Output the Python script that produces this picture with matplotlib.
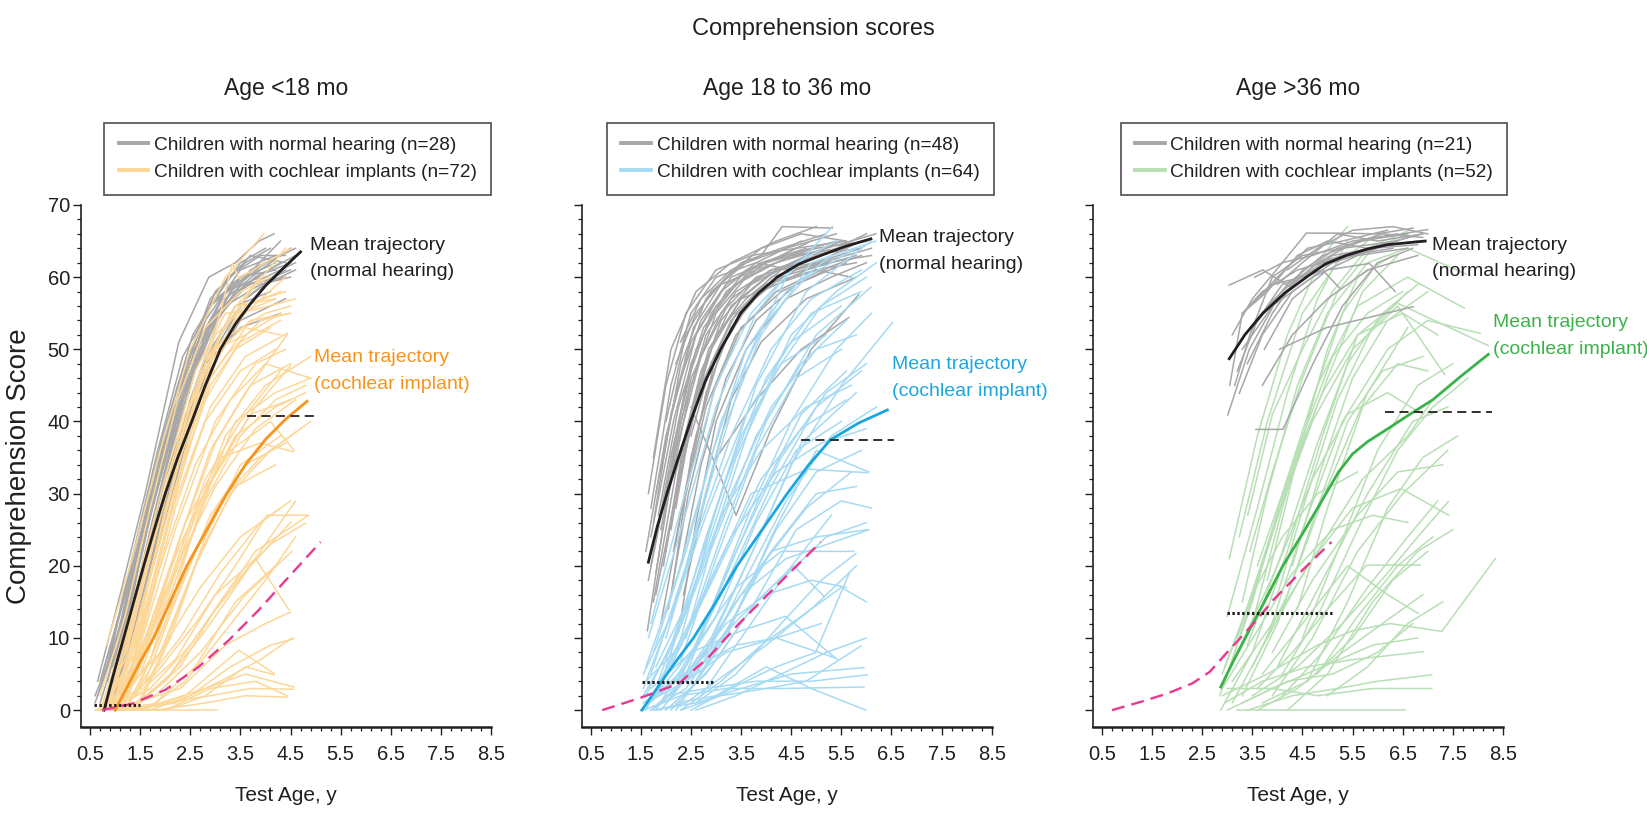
"""Comprehension score trajectories: normal hearing vs cochlear implants, by age at implantation."""
import numpy as np
import matplotlib
matplotlib.use('Agg')
import matplotlib.pyplot as plt
from matplotlib.lines import Line2D
from matplotlib.ticker import FixedLocator

REGULAR = ['Liberation Sans', 'DejaVu Sans']
plt.rcParams['font.family'] = REGULAR

# ---- data: individual trajectories as (test age in y, comprehension score) ----
NH_LT18 = [
    [(0.65, 4), (1.1, 16), (1.6, 30), (2.27, 51), (2.87, 60), (3.4, 62), (3.87, 65), (4.17, 66)],
    [(0.7, 3), (1.2, 14), (1.75, 32), (2.4, 48), (3.0, 58), (3.6, 62), (4.1, 64)],
    [(0.85, 2), (1.3, 15), (1.8, 30), (2.3, 44), (2.9, 56), (3.5, 60), (4.3, 63)],
    [(0.75, 5), (1.25, 17), (1.9, 35), (2.6, 50), (3.3, 59), (4.0, 62)],
    [(0.9, 1), (1.4, 13), (2.0, 33), (2.6, 47), (3.2, 57), (3.9, 61), (4.5, 64)],
    [(0.6, 2), (1.0, 9), (1.5, 24), (2.1, 40), (2.8, 54), (3.5, 61), (4.2, 63)],
    [(1.0, 4), (1.5, 18), (2.1, 36), (2.7, 50), (3.4, 58), (4.0, 60), (4.6, 62)],
    [(0.8, 0), (1.3, 11), (1.9, 28), (2.5, 42), (3.1, 52), (3.8, 59), (4.5, 61)],
    [(0.95, 6), (1.45, 20), (2.0, 37), (2.5, 49), (3.2, 58), (3.9, 60)],
    [(0.7, 1), (1.2, 12), (1.7, 27), (2.3, 42), (2.9, 53), (3.6, 59), (4.3, 62)],
    [(1.1, 8), (1.6, 24), (2.2, 40), (2.8, 52), (3.5, 60), (4.2, 61)],
    [(0.85, 4), (1.35, 19), (1.9, 34), (2.45, 46), (3.0, 55), (3.8, 60), (4.6, 63)],
    [(0.75, 0), (1.2, 8), (1.8, 25), (2.4, 39), (3.0, 50), (3.6, 57), (4.4, 61)],
    [(1.2, 10), (1.7, 25), (2.3, 42), (2.9, 54), (3.6, 59), (4.4, 60)],
    [(0.9, 3), (1.4, 16), (2.0, 32), (2.7, 47), (3.4, 56), (4.1, 58)],
    [(1.0, 2), (1.6, 19), (2.2, 35), (2.8, 48), (3.5, 53), (4.3, 55)],
    [(0.65, 2), (1.1, 11), (1.6, 26), (2.2, 43), (2.8, 55), (3.5, 62), (4.0, 64)],
    [(1.3, 9), (1.8, 27), (2.4, 44), (3.0, 54), (3.7, 61), (4.6, 64)],
    [(0.8, 5), (1.3, 20), (1.85, 36), (2.35, 49), (3.0, 57), (3.6, 60), (4.3, 65)],
    [(1.1, 5), (1.7, 22), (2.3, 38), (2.9, 50), (3.6, 57), (4.5, 62)],
    [(0.7, 4), (1.15, 15), (1.65, 28), (2.25, 45), (2.9, 57), (3.7, 63), (4.4, 62)],
    [(1.4, 12), (1.9, 26), (2.5, 43), (3.1, 55), (3.8, 60), (4.5, 62)],
    [(0.9, 0), (1.5, 14), (2.1, 31), (2.8, 46), (3.5, 54), (4.4, 57)],
    [(1.2, 6), (1.8, 21), (2.6, 42), (3.3, 53), (4.0, 59), (4.6, 61)],
    [(0.6, 1), (1.05, 10), (1.55, 23), (2.15, 39), (2.7, 51), (3.3, 58), (4.0, 62)],
    [(1.0, 7), (1.55, 22), (2.05, 38), (2.6, 50), (3.2, 56), (3.9, 59), (4.5, 60)],
    [(1.25, 12), (1.75, 30), (2.3, 46), (2.9, 56), (3.6, 60), (4.2, 62)],
    [(0.85, 6), (1.35, 21), (1.95, 38), (2.55, 52), (3.25, 60), (3.9, 63), (4.4, 63)],
]

CI_LT18 = [
    [(0.83, 9), (1.3, 20), (1.9, 36), (2.5, 50), (3.2, 60), (3.97, 66)],
    [(0.9, 2), (1.4, 14), (2.0, 30), (2.6, 45), (3.1, 55), (3.34, 61.9), (3.47, 59.8), (4.0, 62), (4.53, 64)],
    [(0.8, 0), (1.3, 10), (1.9, 27), (2.5, 42), (3.1, 52), (3.7, 58), (4.4, 64)],
    [(1.0, 1), (1.5, 13), (2.1, 30), (2.7, 45), (3.3, 55), (3.9, 60)],
    [(0.7, 0), (1.2, 7), (1.8, 24), (2.4, 40), (3.0, 52), (3.6, 56), (4.3, 58)],
    [(1.1, 3), (1.6, 16), (2.2, 33), (2.8, 48), (3.4, 56), (4.2, 57)],
    [(0.9, 0), (1.5, 12), (2.0, 28), (2.7, 44), (3.3, 52), (4.0, 55), (4.5, 56)],
    [(1.2, 2), (1.8, 18), (2.4, 36), (3.0, 50), (3.6, 55), (4.4, 60)],
    [(0.75, 1), (1.25, 11), (1.8, 26), (2.4, 38), (3.0, 48), (3.5, 56), (4.4, 58)],
    [(1.3, 5), (1.9, 22), (2.5, 38), (3.1, 50), (3.7, 54), (4.5, 55)],
    [(1.0, 0), (1.6, 14), (2.3, 32), (2.9, 46), (3.6, 53), (4.3, 52)],
    [(0.85, 3), (1.35, 15), (1.95, 31), (2.6, 47), (3.2, 55), (3.8, 55.5), (4.6, 57)],
    [(1.1, 0), (1.7, 10), (2.3, 24), (3.0, 37), (3.7, 45), (4.5, 48)],
    [(0.9, 0), (1.5, 8), (2.2, 22), (2.9, 36), (3.6, 44), (4.43, 52)],
    [(1.2, 1), (1.8, 11), (2.5, 25), (3.2, 38), (4.0, 45), (4.9, 49)],
    [(1.4, 2), (2.0, 12), (2.7, 28), (3.4, 40), (4.2, 44), (4.9, 46)],
    [(0.8, 0), (1.4, 6), (2.1, 18), (2.8, 32), (3.5, 40), (4.3, 47)],
    [(1.0, 0), (1.6, 9), (2.3, 21), (3.0, 31), (3.8, 39), (4.6, 43)],
    [(1.3, 3), (1.9, 14), (2.6, 28), (3.3, 36), (4.1, 40), (4.57, 36)],
    [(1.5, 1), (2.1, 10), (2.8, 24), (3.5, 34), (4.3, 38)],
    [(0.7, 0), (1.3, 4), (2.0, 15), (2.7, 29), (3.4, 38), (4.2, 42), (4.8, 44)],
    [(1.1, 2), (1.8, 13), (2.4, 26), (3.1, 35), (3.9, 37), (4.56, 35.8)],
    [(1.2, 0), (1.9, 8), (2.6, 20), (3.3, 30), (4.1, 36), (4.9, 40)],
    [(0.95, 1), (1.6, 10), (2.3, 23), (3.0, 33), (3.8, 42), (4.5, 47.7)],
    [(1.6, 4), (2.2, 15), (2.9, 27), (3.6, 34), (4.4, 37)],
    [(1.0, 0), (1.7, 7), (2.4, 19), (3.1, 29), (3.9, 35), (4.7, 39)],
    [(1.4, 0), (2.0, 9), (2.7, 22), (3.4, 31), (4.2, 34)],
    [(0.8, 1), (1.5, 9), (2.2, 25), (3.0, 40), (3.8, 48), (4.4, 50)],
    [(1.0, 0), (1.8, 5), (2.6, 12), (3.4, 20), (4.03, 27), (4.83, 27)],
    [(1.2, 0), (2.0, 4), (2.8, 11), (3.6, 19), (4.6, 29)],
    [(1.5, 1), (2.3, 6), (3.0, 14), (3.8, 22), (4.86, 27)],
    [(0.9, 0), (1.7, 3), (2.5, 9), (3.3, 17), (4.1, 23), (4.8, 25.9)],
    [(1.3, 0), (2.1, 5), (2.9, 13), (3.7, 20), (4.5, 26)],
    [(1.1, 2), (1.9, 8), (2.7, 17), (3.5, 24), (4.3, 28)],
    [(1.6, 0), (2.4, 4), (3.2, 11), (4.0, 18), (4.6, 24)],
    [(0.7, 0), (1.5, 3), (2.3, 10), (3.1, 19), (3.9, 26), (4.5, 29)],
    [(1.4, 2), (2.2, 7), (3.0, 16), (3.8, 21), (4.47, 13.9)],
    [(1.8, 1), (2.6, 6), (3.4, 15), (4.2, 20)],
    [(1.0, 0), (1.8, 2), (2.7, 8), (3.6, 16), (4.53, 22)],
    [(0.6, 0), (1.5, 0), (2.2, 0), (3.03, 0)],
    [(1.2, 0), (2.0, 1), (2.9, 2), (3.7, 3), (4.56, 2.9)],
    [(1.0, 0), (1.8, 0), (2.8, 1), (3.6, 2), (4.43, 1.8)],
    [(1.5, 0), (2.4, 2), (3.47, 8.3), (4.17, 5.1)],
    [(1.3, 0), (2.2, 1), (3.1, 4), (3.9, 7), (4.53, 10)],
    [(0.9, 0), (1.9, 1), (2.8, 3), (3.6, 5), (4.57, 3.2)],
    [(1.7, 0), (2.5, 2), (3.3, 6), (4.1, 9), (4.57, 9.9)],
    [(1.1, 0), (2.0, 0), (2.9, 3), (3.8, 4), (4.43, 2)],
    [(1.4, 1), (2.3, 3), (3.2, 9), (4.0, 12), (4.5, 13.6)],
    [(2.0, 0), (2.8, 2), (3.6, 6), (4.17, 4.9)],
    [(0.8, 0), (1.2, 6), (1.7, 19), (2.3, 35), (2.9, 48), (3.5, 55), (4.2, 57)],
    [(0.9, 1), (1.35, 12), (1.85, 27), (2.4, 41), (3.0, 50), (3.6, 52), (4.3, 55)],
    [(1.0, 3), (1.45, 15), (2.0, 30), (2.6, 43), (3.2, 49), (3.9, 54), (4.5, 55)],
    [(0.75, 0), (1.15, 5), (1.65, 17), (2.2, 31), (2.8, 43), (3.4, 50), (4.1, 53)],
    [(1.1, 1), (1.6, 12), (2.2, 28), (2.8, 40), (3.5, 47), (4.2, 50)],
    [(0.65, 0), (1.1, 4), (1.6, 14), (2.2, 29), (2.9, 42), (3.6, 49), (4.43, 52.2)],
    [(1.25, 4), (1.75, 18), (2.35, 34), (2.9, 45), (3.5, 51), (4.3, 54)],
    [(0.7, 2), (1.2, 13), (1.7, 28), (2.25, 43), (2.8, 53), (3.5, 58), (4.1, 60)],
    [(0.9, 0), (1.4, 9), (2.0, 22), (2.6, 34), (3.3, 43), (4.0, 48), (4.9, 46)],
    [(1.0, 0), (1.5, 5), (2.1, 16), (2.8, 29), (3.5, 38), (4.2, 43), (4.8, 45)],
    [(1.2, 0), (1.7, 7), (2.3, 20), (3.0, 33), (3.7, 41), (4.5, 43)],
]

NH_18_36 = [
    [(1.63, 11), (2.0, 28), (2.5, 45), (3.0, 55), (3.6, 60), (4.5, 63), (5.5, 64)],
    [(1.7, 20), (2.1, 35), (2.6, 50), (3.2, 58), (4.0, 62), (5.0, 64), (6.0, 65)],
    [(2.29, 51), (2.7, 57), (3.3, 61), (3.9, 63), (4.32, 67), (5.32, 66.8)],
    [(1.75, 15), (2.2, 33), (2.7, 47), (3.3, 56), (4.0, 60), (4.8, 63), (5.9, 64)],
    [(1.9, 25), (2.3, 40), (2.8, 52), (3.4, 58), (4.1, 61), (5.0, 63)],
    [(2.13, 17), (2.5, 35), (3.0, 49), (3.6, 56), (4.3, 60), (5.2, 62), (6.1, 63)],
    [(1.8, 30), (2.2, 44), (2.7, 54), (3.3, 60), (4.0, 62), (4.9, 65)],
    [(2.0, 22), (2.4, 38), (2.9, 50), (3.5, 57), (4.2, 61), (5.1, 63), (6.0, 66)],
    [(1.65, 18), (2.05, 32), (2.5, 46), (3.1, 55), (3.8, 60), (4.7, 62)],
    [(2.2, 28), (2.6, 44), (3.1, 54), (3.7, 59), (4.5, 62), (5.5, 65)],
    [(1.9, 12), (2.3, 27), (2.8, 42), (3.4, 52), (4.2, 58), (5.1, 61), (5.9, 63)],
    [(2.1, 35), (2.5, 48), (3.0, 56), (3.7, 61), (4.6, 64), (5.6, 65)],
    [(1.7, 24), (2.15, 40), (2.6, 52), (3.2, 59), (3.9, 62), (4.8, 64)],
    [(2.26, 11), (2.6, 26), (3.0, 40), (3.6, 50), (4.4, 57), (5.3, 60), (6.0, 62)],
    [(1.8, 19), (2.2, 36), (2.7, 49), (3.3, 57), (4.1, 61), (5.0, 62), (5.9, 65)],
    [(2.0, 30), (2.4, 45), (2.9, 55), (3.6, 61), (4.4, 63), (5.4, 65)],
    [(1.6, 22), (2.0, 38), (2.5, 51), (3.1, 58), (3.8, 62), (4.7, 65)],
    [(2.3, 20), (2.7, 34), (3.2, 46), (3.8, 54), (4.6, 59), (5.6, 62)],
    [(1.85, 27), (2.25, 42), (2.75, 53), (3.4, 59), (4.2, 62), (5.2, 64), (6.19, 66)],
    [(2.05, 14), (2.45, 30), (2.95, 44), (3.5, 53), (4.3, 58), (5.2, 61)],
    [(2.5, 42), (2.99, 34), (3.4, 27), (4.1, 39), (4.9, 50), (5.85, 57.6)],
    [(3.0, 34.9), (3.8, 43), (4.7, 50), (5.65, 54.4)],
    [(2.2, 48), (2.6, 55), (3.2, 60), (3.9, 64), (4.7, 66), (5.6, 65)],
    [(1.75, 26), (2.1, 41), (2.55, 53), (3.1, 59), (3.8, 61), (4.6, 63), (5.5, 64)],
    [(2.4, 30), (2.8, 44), (3.3, 53), (3.9, 58), (4.8, 61), (5.8, 63)],
    [(1.95, 20), (2.35, 37), (2.85, 50), (3.5, 57), (4.2, 59), (5.0, 61), (5.8, 62)],
    [(2.1, 25), (2.5, 41), (3.0, 52), (3.6, 57), (4.3, 61), (5.3, 62)],
    [(1.7, 28), (2.1, 45), (2.5, 55), (3.0, 60), (3.8, 62), (4.5, 61)],
    [(2.5, 38), (2.9, 48), (3.4, 55), (4.1, 60), (5.0, 62), (5.9, 64)],
    [(1.8, 16), (2.2, 30), (2.7, 45), (3.3, 54), (4.0, 59), (5.0, 61), (5.7, 60)],
    [(2.0, 40), (2.4, 52), (2.9, 58), (3.6, 62), (4.4, 64), (5.4, 66)],
    [(1.65, 30), (2.0, 45), (2.4, 55), (3.0, 61), (3.7, 63), (4.6, 64)],
    [(2.15, 22), (2.6, 38), (3.1, 50), (3.8, 58), (4.6, 61), (5.6, 63), (6.1, 64)],
    [(1.9, 33), (2.3, 48), (2.8, 57), (3.5, 62), (4.3, 64), (5.2, 66)],
    [(2.35, 16), (2.8, 30), (3.3, 43), (3.9, 51), (4.8, 57), (5.8, 60)],
    [(1.75, 35), (2.1, 50), (2.6, 58), (3.3, 62), (4.2, 65), (5.0, 67)],
]

CI_18_36 = [
    [(1.55, 3), (2.2, 15), (2.9, 32), (3.6, 48), (4.4, 60), (5.32, 67)],
    [(1.6, 0), (2.3, 10), (3.0, 28), (3.8, 45), (4.8, 58), (6.09, 65)],
    [(1.7, 5), (2.4, 20), (3.1, 38), (3.9, 52), (4.9, 62), (6.19, 65)],
    [(1.8, 2), (2.5, 12), (3.2, 26), (4.0, 40), (5.0, 52), (6.09, 58.6)],
    [(2.0, 1), (2.8, 8), (3.6, 20), (4.5, 34), (5.5, 45), (6.52, 53.7)],
    [(1.52, 0), (2.1, 6), (2.9, 18), (3.7, 30), (4.82, 33.4), (6.02, 32.9)],
    [(1.7, 0), (2.5, 5), (3.3, 14), (4.1, 22), (5.0, 24), (6.02, 25)],
    [(1.9, 3), (2.6, 9), (3.4, 17), (4.3, 22), (5.75, 22)],
    [(2.1, 0), (2.9, 6), (3.8, 15), (4.55, 20), (5.15, 15.8)],
    [(1.6, 1), (2.4, 4), (3.2, 8), (4.2, 10), (5.39, 7.2)],
    [(2.3, 0), (3.1, 2), (4.0, 3), (4.8, 4), (5.89, 8.9)],
    [(1.8, 0), (2.6, 1), (3.5, 3), (4.5, 5), (5.95, 5.9)],
    [(2.0, 2), (2.8, 3), (3.8, 4), (4.9, 4), (6.02, 4.9)],
    [(1.55, 0), (2.3, 2), (3.2, 3), (4.3, 3), (5.95, 3.2)],
    [(2.2, 1), (3.0, 2), (4.0, 6), (4.9, 3), (5.99, 0)],
    [(2.5, 0), (3.3, 3), (4.2, 6), (4.99, 8), (5.66, 19)],
    [(1.7, 3), (2.5, 8), (3.5, 11), (4.39, 13), (5.42, 7)],
    [(2.4, 2), (3.2, 10), (4.1, 24), (5.0, 36), (6.05, 33)],
    [(1.9, 0), (2.7, 7), (3.5, 16), (4.4, 21), (6.05, 25)],
    [(2.6, 1), (3.4, 5), (4.3, 12), (5.1, 18), (5.79, 21.7)],
    [(1.6, 6), (2.2, 18), (2.9, 35), (3.6, 50), (4.4, 58), (5.3, 63)],
    [(1.75, 8), (2.4, 22), (3.1, 40), (3.9, 53), (4.8, 60), (5.8, 64)],
    [(1.85, 4), (2.5, 17), (3.2, 32), (4.0, 46), (4.9, 55), (5.9, 58)],
    [(1.65, 10), (2.3, 25), (3.0, 42), (3.8, 55), (4.6, 62), (5.4, 65)],
    [(2.0, 6), (2.7, 20), (3.4, 35), (4.2, 47), (5.1, 56), (6.0, 60)],
    [(1.7, 12), (2.3, 28), (3.0, 45), (3.7, 55), (4.5, 61)],
    [(2.2, 3), (2.9, 14), (3.7, 28), (4.5, 40), (5.4, 50), (6.1, 55)],
    [(1.55, 2), (2.2, 10), (3.0, 24), (3.8, 38), (4.7, 48), (5.6, 54)],
    [(1.8, 0), (2.6, 9), (3.4, 22), (4.3, 35), (5.2, 44), (6.0, 48)],
    [(2.4, 5), (3.1, 17), (3.9, 30), (4.7, 41), (5.6, 47)],
    [(1.6, 2), (2.3, 12), (3.1, 27), (3.9, 36), (4.8, 42), (5.7, 45)],
    [(2.1, 8), (2.8, 24), (3.5, 38), (4.3, 48), (5.2, 52)],
    [(1.9, 1), (2.7, 6), (3.5, 17), (4.4, 29), (5.3, 38), (6.2, 42)],
    [(2.5, 3), (3.3, 12), (4.2, 25), (5.0, 33), (5.9, 36)],
    [(1.7, 0), (2.4, 3), (3.2, 11), (4.1, 22), (5.0, 30), (5.8, 31)],
    [(2.3, 7), (3.0, 21), (3.8, 36), (4.6, 46), (5.5, 50)],
    [(1.55, 5), (2.1, 13), (2.8, 27), (3.6, 41), (4.5, 51), (5.5, 56)],
    [(2.0, 0), (2.8, 5), (3.7, 14), (4.6, 25), (5.5, 29), (6.1, 28)],
    [(2.7, 2), (3.5, 10), (4.3, 18), (5.2, 24), (6.0, 26)],
    [(1.65, 1), (2.4, 6), (3.3, 19), (4.1, 31), (5.0, 42), (5.9, 47)],
    [(2.2, 0), (3.0, 8), (3.9, 20), (4.8, 28), (5.7, 33)],
    [(1.8, 6), (2.5, 16), (3.3, 30), (4.1, 42), (5.0, 50), (5.8, 52)],
    [(2.4, 10), (3.0, 25), (3.7, 40), (4.5, 52), (5.4, 58), (6.2, 62)],
    [(1.9, 4), (2.6, 14), (3.3, 24), (4.2, 33), (5.1, 37), (6.0, 39)],
    [(2.6, 0), (3.4, 2), (4.3, 5), (5.2, 8), (6.0, 10)],
    [(1.7, 2), (2.4, 5), (3.2, 12), (4.0, 16), (4.9, 18), (5.6, 17)],
    [(2.0, 3), (2.6, 6), (3.4, 9), (4.2, 10), (5.1, 12)],
    [(1.5, 0), (2.2, 4), (3.0, 13), (3.8, 26), (4.6, 36), (5.5, 40)],
    [(2.3, 0), (3.1, 4), (3.9, 9), (4.7, 13), (5.5, 17), (6.0, 15)],
    [(1.6, 4), (2.3, 9), (3.0, 19), (3.9, 32), (4.7, 39), (5.6, 43)],
    [(2.1, 2), (2.9, 10), (3.8, 23), (4.7, 37), (5.8, 44)],
    [(1.75, 0), (2.4, 1), (3.2, 5), (4.0, 9), (4.9, 14), (5.8, 20)],
    [(2.0, 10), (2.6, 24), (3.3, 38), (4.1, 50), (4.9, 57), (5.9, 61)],
    [(1.55, 1), (2.0, 3), (2.7, 7), (3.5, 13), (4.4, 19), (5.3, 27)],
]

NH_GT36 = [
    [(3.04, 58.9), (3.71, 61), (4.24, 58.7), (4.8, 62), (5.6, 65), (6.6, 66)],
    [(3.01, 40.9), (3.44, 50), (4.0, 57), (4.8, 62), (5.8, 64), (6.8, 65)],
    [(3.24, 43.9), (3.7, 52), (4.3, 58), (5.1, 62), (6.0, 64)],
    [(3.74, 50), (4.3, 57), (5.0, 61), (5.84, 61.9), (6.35, 58)],
    [(4.04, 50), (4.98, 53), (6.71, 55.9)],
    [(3.57, 38.9), (4.11, 38.9), (4.71, 48), (5.3, 56), (6.0, 62), (6.7, 64)],
    [(3.1, 52), (3.5, 57), (4.1, 62), (4.58, 66.1), (5.18, 66.1), (6.0, 66), (6.71, 66.8)],
    [(3.3, 55), (3.8, 58), (4.4, 63), (5.0, 65), (5.8, 64), (6.9, 66)],
    [(3.4, 48), (3.9, 55), (4.5, 61), (5.2, 64), (6.1, 66), (6.9, 65.5)],
    [(3.6, 57), (4.0, 60), (4.6, 64), (5.3, 65), (6.2, 66.5)],
    [(3.2, 47), (3.6, 54), (4.1, 59), (4.9, 61), (5.24, 58.5)],
    [(3.5, 53), (4.2, 59), (4.9, 63), (5.7, 65), (6.5, 66), (7.0, 66.6)],
    [(3.8, 56), (4.4, 60), (5.1, 62), (5.9, 64), (6.8, 64.5)],
    [(3.15, 45), (3.45, 52), (3.9, 60), (4.5, 63), (5.3, 64), (6.4, 65)],
    [(4.0, 59), (4.5, 62), (5.2, 66), (6.0, 65), (6.9, 66)],
    [(3.3, 50), (3.9, 56), (4.7, 60), (5.6, 63), (6.6, 64)],
    [(3.7, 45), (4.3, 52), (5.0, 57), (5.8, 61), (6.8, 63)],
    [(3.05, 45), (3.3, 55), (3.7, 58), (4.4, 61), (5.4, 63), (6.3, 64)],
    [(4.2, 61), (4.8, 64), (5.5, 66.5), (6.3, 67), (7.0, 66)],
    [(3.45, 56), (3.9, 59), (4.5, 60), (5.1, 63), (5.9, 64), (6.6, 65.5)],
    [(3.55, 60), (4.1, 62), (4.7, 63), (5.5, 65), (6.4, 66)],
]

CI_GT36 = [
    [(3.04, 21), (3.6, 38), (4.2, 52), (4.9, 63), (5.4, 67)],
    [(3.24, 24), (3.8, 40), (4.5, 55), (5.2, 62), (6.0, 66)],
    [(3.41, 27), (3.9, 41), (4.5, 50), (5.1, 58), (5.8, 64), (6.63, 66.5)],
    [(3.2, 0), (4.5, 0), (6.55, 0)],
    [(2.87, 0), (3.5, 8), (4.2, 22), (4.9, 38), (5.6, 52), (6.39, 56.4), (8.21, 50.5)],
    [(2.9, 2), (3.8, 5), (4.8, 9), (5.5, 11), (6.25, 12), (7.28, 10.9), (8.35, 21)],
    [(3.1, 1), (3.8, 10), (4.6, 20), (5.5, 28), (6.47, 30.7), (7.42, 27)],
    [(3.5, 2), (4.4, 6), (5.3, 12), (6.2, 19), (6.8, 24), (7.41, 28.9)],
    [(3.6, 3), (4.3, 8), (5.0, 14), (5.78, 20.1), (6.85, 20.1)],
    [(2.95, 1), (3.7, 4), (4.6, 6), (5.5, 7), (6.91, 8.1)],
    [(3.4, 0), (4.3, 2), (5.2, 3), (6.0, 4), (7.08, 4.9)],
    [(3.0, 3), (3.9, 3), (4.8, 2), (5.9, 3), (7.08, 3)],
    [(3.7, 5), (4.5, 12), (5.4, 20), (6.2, 16), (6.81, 13.4)],
    [(3.2, 10), (3.9, 25), (4.7, 40), (5.5, 50), (6.4, 56), (7.34, 46.5)],
    [(3.5, 12), (4.1, 28), (4.8, 45), (5.6, 56), (6.6, 60), (7.73, 55.7)],
    [(3.8, 10), (4.5, 25), (5.3, 40), (6.2, 50), (7.0, 54), (8.05, 52.2)],
    [(4.0, 6), (4.9, 18), (5.8, 30), (6.7, 40), (7.4, 42)],
    [(3.3, 15), (3.8, 30), (4.4, 45), (5.0, 55), (5.8, 62), (6.6, 64), (7.77, 60.4)],
    [(2.9, 5), (3.6, 18), (4.3, 33), (5.0, 46), (5.7, 58), (6.4, 63)],
    [(3.1, 7), (3.7, 20), (4.4, 36), (5.1, 49), (5.8, 55), (6.5, 58)],
    [(3.9, 2), (4.7, 10), (5.6, 22), (6.5, 30), (7.4, 36)],
    [(4.2, 0), (5.0, 5), (5.9, 15), (6.8, 22), (7.5, 25)],
    [(3.6, 20), (4.2, 32), (4.9, 44), (5.6, 52), (6.5, 55), (7.2, 52)],
    [(4.4, 14), (5.0, 28), (5.7, 42), (6.4, 48), (7.0, 47)],
    [(3.0, 0), (3.9, 3), (4.9, 6), (5.9, 9), (6.8, 10)],
    [(3.3, 2), (4.0, 12), (4.7, 26), (5.4, 40), (6.1, 47), (6.9, 49)],
    [(4.6, 4), (5.4, 15), (6.2, 28), (6.9, 35), (7.6, 38)],
    [(3.5, 6), (4.2, 16), (5.0, 31), (5.8, 44), (6.6, 53)],
    [(2.85, 2), (3.5, 15), (4.1, 30), (4.7, 43), (5.3, 55), (6.0, 62)],
    [(3.7, 1), (4.6, 4), (5.5, 10), (6.3, 18), (7.0, 22)],
    [(4.0, 16), (4.6, 30), (5.2, 43), (5.9, 53), (6.6, 58)],
    [(3.2, 8), (4.0, 20), (4.7, 32), (5.4, 41), (6.2, 44), (6.9, 41)],
    [(4.3, 20), (4.9, 34), (5.5, 46), (6.2, 54), (7.0, 58)],
    [(3.9, 8), (4.7, 18), (5.6, 27), (6.4, 33), (7.3, 34)],
    [(3.1, 4), (3.9, 12), (4.8, 22), (5.7, 32), (6.6, 38), (7.1, 43)],
    [(4.8, 5), (5.6, 13), (6.4, 20), (7.1, 24)],
    [(3.4, 9), (4.1, 22), (4.8, 37), (5.4, 48), (6.1, 55), (6.8, 59)],
    [(2.9, 3), (3.6, 11), (4.3, 19), (5.1, 25), (5.9, 27), (6.6, 26)],
    [(4.1, 2), (4.9, 8), (5.8, 17), (6.6, 24), (7.2, 29)],
    [(3.8, 18), (4.4, 35), (5.0, 50), (5.6, 60), (6.3, 63)],
    [(3.0, 13), (3.6, 28), (4.2, 44), (4.8, 57), (5.4, 65)],
    [(5.0, 2), (5.8, 6), (6.6, 12), (7.3, 15)],
    [(3.3, 1), (4.2, 4), (5.1, 5), (6.0, 8), (6.7, 12)],
    [(4.5, 10), (5.2, 22), (6.0, 36), (6.8, 45), (7.5, 48)],
    [(3.6, 0), (4.4, 3), (5.3, 8), (6.1, 12), (6.9, 16)],
    [(3.45, 22), (3.9, 33), (4.5, 46), (5.2, 58), (5.9, 64), (6.6, 66)],
    [(4.1, 5), (4.8, 13), (5.6, 25), (6.4, 36), (7.1, 42), (7.8, 46)],
    [(2.95, 6), (3.5, 16), (4.1, 24), (4.8, 30), (5.6, 33)],
]

# mean trajectories
NH_MEAN_AGE = [[0.78, 0.95, 1.17, 1.37, 1.57, 1.78, 2.0, 2.25, 2.53, 2.8, 3.1, 3.4, 3.7, 4.0, 4.35, 4.7],
               [1.65, 1.83, 2.02, 2.25, 2.49, 2.78, 3.09, 3.49, 3.85, 4.22, 4.65, 5.09, 5.6, 6.09],
               [3.04, 3.35, 3.71, 4.15, 4.58, 4.95, 5.37, 5.8, 6.2, 6.95]]
NH_MEAN_SCORE = [[0, 4.5, 10, 15, 20, 25, 30, 35, 40, 45, 50, 53.5, 56.3, 58.8, 61.2, 63.5],
                 [20.5, 25.5, 30, 35, 40, 45.5, 50, 55, 57.8, 60, 61.8, 63, 64.3, 65.3],
                 [48.7, 52, 55, 57.8, 60, 61.8, 63, 63.9, 64.5, 65]]
CI_MEAN_AGE = [[1.0, 1.15, 1.3, 1.5, 1.77, 2.1, 2.43, 2.83, 3.23, 3.6, 4.0, 4.4, 4.83],
               [1.52, 1.77, 2.02, 2.28, 2.55, 3.0, 3.42, 3.92, 4.42, 4.85, 5.29, 5.85, 6.42],
               [2.87, 3.1, 3.36, 3.74, 4.11, 4.55, 4.97, 5.22, 5.5, 5.8, 6.16, 6.6, 7.1, 7.65, 8.21]]
CI_MEAN_SCORE = [[0, 2, 4, 6.7, 10, 15, 20, 25, 30, 34, 37.5, 40.3, 42.8],
                 [0, 2.5, 5, 7.5, 10, 15, 20, 25, 30, 34, 37.5, 39.8, 41.6],
                 [3.2, 6.5, 10, 15, 20, 25, 30, 33, 35.5, 37.2, 38.8, 40.8, 43, 46.2, 49.3]]
# pink dashed reference curve
REF_AGE = [[0.74, 1.34, 2.0, 2.67, 3.27, 3.87, 4.47, 5.1],
           [0.73, 1.53, 2.26, 2.86, 3.46, 4.06, 5.09],
           [0.7, 1.3, 1.8, 2.3, 2.65, 2.97, 3.3, 3.6, 3.91, 4.5, 5.08]]
REF_SCORE = [[0, 0.9, 2.8, 6.0, 9.7, 13.9, 18.5, 23.3],
             [0, 1.8, 3.7, 7.4, 12.0, 16.2, 23.3],
             [0, 1.2, 2.3, 3.7, 5.3, 7.8, 10.3, 12.6, 15.2, 19.4, 23.3]]
# horizontal reference segments: (start age, end age, score)
DOTTED = [(0.57, 1.5, 0.7), (1.52, 2.95, 3.9), (3.0, 5.09, 13.5)]
DASHED = [(3.63, 5.0, 40.8), (4.69, 6.55, 37.4), (6.14, 8.29, 41.3)]

TITLES = ['Age <18 mo', 'Age 18 to 36 mo', 'Age >36 mo']
N_NH = [28, 48, 21]
N_CI = [72, 64, 52]
# label anchors (age, score) for the mean-trajectory annotations
NH_LABEL_POS = [(4.89, 62.6), (6.25, 63.6), (7.08, 62.6)]
CI_LABEL_POS = [(4.96, 47.0), (6.51, 46.0), (8.30, 51.8)]

GRAY = '#a7a7a9'
LIGHT = ['#fdd797', '#a6daf3', '#b8dfb4']
DARK = ['#f7941d', '#1ba6e1', '#3cb24a']
PINK = '#e8398f'
BLACK = '#231f20'

fig = plt.figure(figsize=(16.47, 8.15), dpi=100)
lefts = [0.0492, 0.3532, 0.6636]
axes = [fig.add_axes([l, 0.1083, 0.2489, 0.6402]) for l in lefts]

groups = [(NH_LT18, CI_LT18), (NH_18_36, CI_18_36), (NH_GT36, CI_GT36)]
leg_x = [0.057, 0.062, 0.068]

for i, ax in enumerate(axes):
    nh, ci = groups[i]
    nh_z, ci_z = (1, 2) if i < 2 else (2, 1)
    for tr in nh:
        a, s = zip(*tr)
        ax.plot(a, s, color=GRAY, lw=1.1, zorder=nh_z)
    for tr in ci:
        a, s = zip(*tr)
        ax.plot(a, s, color=LIGHT[i], lw=1.1, zorder=ci_z)

    ax.plot(NH_MEAN_AGE[i], NH_MEAN_SCORE[i], color=BLACK, lw=2.0, zorder=5)
    ax.plot(CI_MEAN_AGE[i], CI_MEAN_SCORE[i], color=DARK[i], lw=2.0, zorder=5)
    ax.plot(REF_AGE[i], REF_SCORE[i], color=PINK, lw=1.7, ls=(0, (5.5, 3)), zorder=6)
    x0, x1, yv = DOTTED[i]
    ax.plot([x0, x1], [yv, yv], color=BLACK, lw=2.2, ls=(0, (0.8, 0.8)), zorder=7)
    x0, x1, yv = DASHED[i]
    ax.plot([x0, x1], [yv, yv], color=BLACK, lw=1.3, ls=(0, (5, 3)), zorder=7)

    ax.text(*NH_LABEL_POS[i], 'Mean trajectory\n(normal hearing)', color=BLACK,
            fontsize=14, ha='left', va='center', linespacing=1.75, zorder=8)
    ax.text(*CI_LABEL_POS[i], 'Mean trajectory\n(cochlear implant)', color=DARK[i],
            fontsize=14, ha='left', va='center', linespacing=1.75, zorder=8,
            clip_on=False)

    ax.set_xlim(0.32, 8.5)
    ax.set_ylim(-2.3, 70)
    ax.xaxis.set_major_locator(FixedLocator(np.arange(0.5, 8.51, 1.0)))
    ax.xaxis.set_minor_locator(FixedLocator(np.arange(0.5, 8.51, 0.2)))
    ax.yaxis.set_major_locator(FixedLocator(np.arange(0, 71, 10)))
    ax.yaxis.set_minor_locator(FixedLocator(np.arange(0, 71, 2)))
    ax.set_xticklabels([f'{v:.1f}' for v in np.arange(0.5, 8.51, 1.0)])
    ax.tick_params(which='major', direction='out', length=5.5, width=1.0,
                   labelsize=14.5, color=BLACK, labelcolor=BLACK)
    ax.tick_params(which='minor', direction='out', length=3.2, width=0.9, color=BLACK)
    ax.tick_params(axis='x', which='major', pad=8)
    ax.tick_params(axis='y', which='major', pad=2.5)
    if i > 0:
        ax.tick_params(axis='y', labelleft=False)
    for side in ('top', 'right'):
        ax.spines[side].set_visible(False)
    ax.spines['left'].set_linewidth(1.2)
    ax.spines['bottom'].set_linewidth(1.8)
    ax.spines['left'].set_color(BLACK)
    ax.spines['bottom'].set_color(BLACK)

    ax.set_xlabel('Test Age, y', fontsize=15, color=BLACK)
    ax.xaxis.set_label_coords(0.5, -0.131)
    ax.xaxis.label.set_va('center')

    ax.text(0.5, 1.2224, TITLES[i], transform=ax.transAxes, ha='center', va='center',
            fontsize=16.5, color=BLACK)

    handles = [Line2D([], [], color=GRAY, lw=2.8),
               Line2D([], [], color=LIGHT[i], lw=2.8)]
    labels = [f'Children with normal hearing (n={N_NH[i]})',
              f'Children with cochlear implants (n={N_CI[i]})']
    leg = ax.legend(handles, labels, loc='upper left', bbox_to_anchor=(leg_x[i], 1.158),
                    fontsize=13.7, frameon=True, fancybox=False, handlelength=1.55,
                    handletextpad=0.3, labelspacing=0.5, borderpad=0.75,
                    borderaxespad=0.0)
    leg.get_frame().set_edgecolor(BLACK)
    leg.get_frame().set_linewidth(1.2)
    for t in leg.get_texts():
        t.set_color(BLACK)

axes[0].set_ylabel('Comprehension Score', fontsize=20, color=BLACK)
axes[0].yaxis.set_label_coords(-0.151, 0.5)
axes[0].yaxis.label.set_va('center')

fig.text(0.494, 0.965, 'Comprehension scores', ha='center', va='center',
         fontsize=17, color=BLACK)

fig.savefig('out.png', dpi=100)
